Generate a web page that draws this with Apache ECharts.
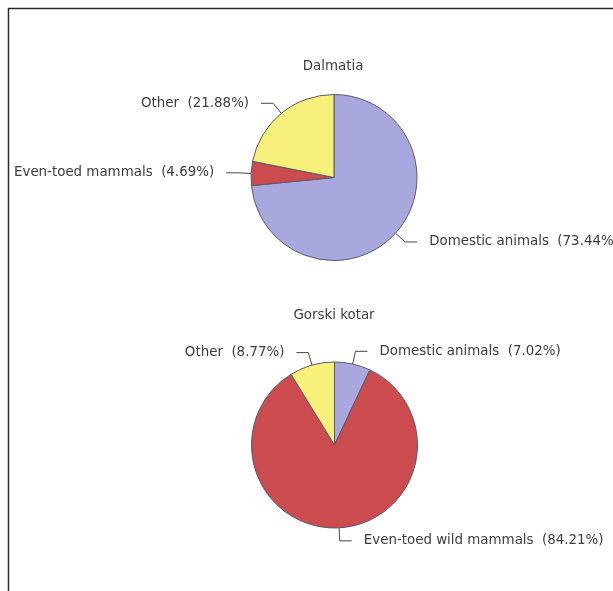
<!DOCTYPE html>
<html>
<head>
<meta charset="utf-8">
<script src="https://cdn.jsdelivr.net/npm/echarts@6/dist/echarts.min.js"></script>
<style>
  html, body { margin: 0; padding: 0; background: #ffffff; overflow: hidden; }
  /* the drawing area runs past the right edge so long labels are clipped, not shortened */
  #chart { width: 720px; height: 591px; }
</style>
</head>
<body>
<div id="chart"></div>
<script>
// Region titles
const regions = ['Dalmatia', 'Gorski kotar'];

// Dalmatia: share of prey categories (%)
const dalmatiaNames = ['Domestic animals', 'Even-toed mammals', 'Other'];
const dalmatiaValues = [73.44, 4.69, 21.88];

// Gorski kotar: share of prey categories (%)
const gorskiNames = ['Domestic animals', 'Even-toed wild mammals', 'Other'];
const gorskiValues = [7.02, 84.21, 8.77];

// Slice colours, one per name in the order above
const dalmatiaColors = ['#a8a8de', '#cc4b4f', '#f7f17c'];
const gorskiColors = ['#a8a8de', '#cc4b4f', '#f7f17c'];

const FONT = 'DejaVu Sans';
const TEXT_COLOR = '#3c3c3c';
const FONT_SIZE = 13.4;

function toData(names, values, colors) {
  return names.map((n, i) => ({ name: n, value: values[i], itemStyle: { color: colors[i] } }));
}

function pieSeries(names, values, colors, center) {
  return {
    type: 'pie',
    center: center,
    radius: [0, 83],
    startAngle: 90,
    clockwise: true,
    animation: false,
    silent: true,
    itemStyle: { borderColor: '#5b5b66', borderWidth: 1 },
    label: {
      show: true,
      position: 'outside',
      fontFamily: FONT,
      fontSize: FONT_SIZE,
      color: TEXT_COLOR,
      overflow: 'none',
      distanceToLabelLine: 12,
      formatter: p => p.name + '  (' + p.value.toFixed(2) + '%)'
    },
    labelLine: {
      show: true,
      length: 13,
      length2: 12,
      lineStyle: { color: '#444', width: 1 }
    },
    data: toData(names, values, colors)
  };
}

const chart = echarts.init(document.getElementById('chart'), null, { renderer: 'canvas' });

const titleStyle = { fontFamily: FONT, fontSize: FONT_SIZE, fontWeight: 'normal', color: TEXT_COLOR };

chart.setOption({
  backgroundColor: '#ffffff',
  title: [
    { text: regions[0], left: 328, top: 55, textAlign: 'center', textStyle: titleStyle },
    { text: regions[1], left: 329, top: 304, textAlign: 'center', textStyle: titleStyle }
  ],
  graphic: [
    { type: 'polyline', silent: true,
      shape: { points: [[8.5, 591], [8.5, 8.5], [720, 8.5]] },
      style: { stroke: '#2a2a2a', lineWidth: 1.5, fill: null } }
  ],
  series: [
    pieSeries(dalmatiaNames, dalmatiaValues, dalmatiaColors, [334, 177.5]),
    pieSeries(gorskiNames, gorskiValues, gorskiColors, [334.5, 445])
  ]
});
</script>
</body>
</html>
